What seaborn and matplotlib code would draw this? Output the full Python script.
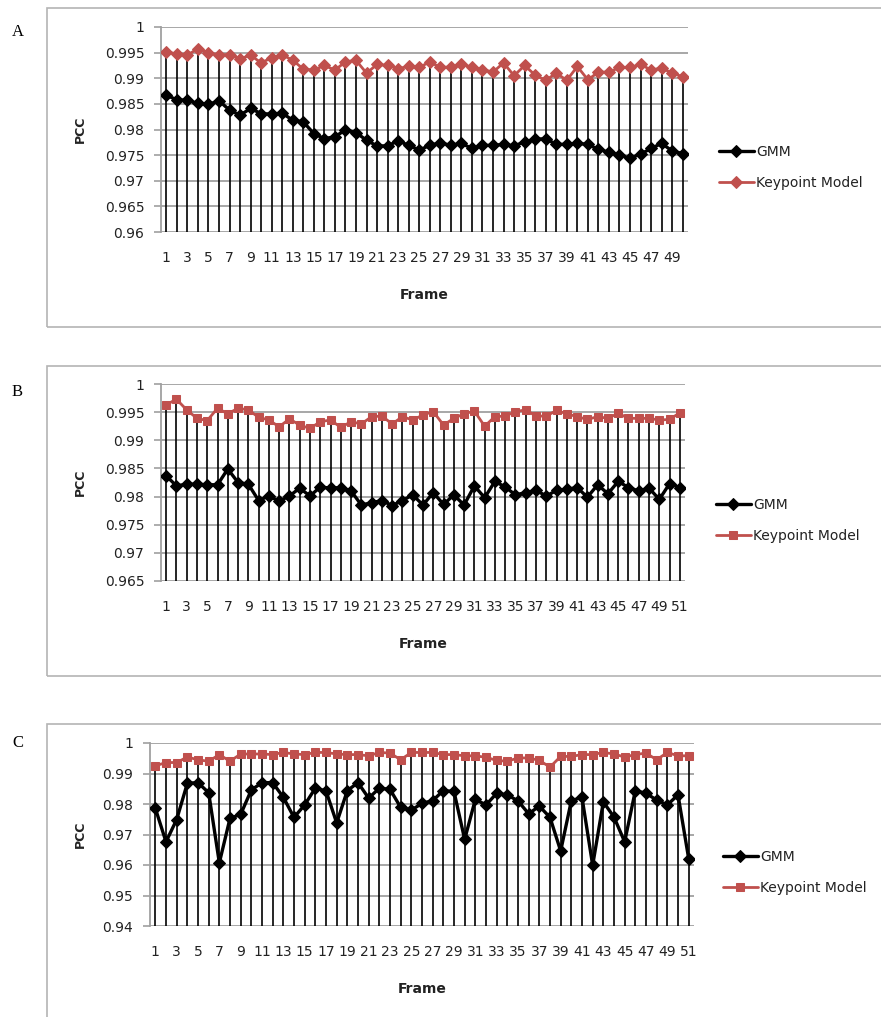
import numpy as np
import pandas as pd
import matplotlib
matplotlib.use("Agg")
import matplotlib.pyplot as plt
import seaborn as sns
from matplotlib.patches import Rectangle

# ---- data ----
gmm_a = [0.9867, 0.9858, 0.9857, 0.9851, 0.9849, 0.9856, 0.9838, 0.9828, 0.9841, 0.9831,
         0.9830, 0.9832, 0.9818, 0.9815, 0.9792, 0.9782, 0.9786, 0.9799, 0.9794, 0.9779,
         0.9768, 0.9768, 0.9778, 0.9769, 0.9760, 0.9769, 0.9774, 0.9769, 0.9773, 0.9763,
         0.9769, 0.9769, 0.9771, 0.9768, 0.9776, 0.9781, 0.9782, 0.9771, 0.9771, 0.9773,
         0.9771, 0.9761, 0.9756, 0.9750, 0.9744, 0.9752, 0.9763, 0.9773, 0.9758, 0.9753]
key_a = [0.9952, 0.9947, 0.9945, 0.9958, 0.9949, 0.9946, 0.9946, 0.9938, 0.9945, 0.9930,
         0.9940, 0.9946, 0.9935, 0.9918, 0.9916, 0.9925, 0.9916, 0.9932, 0.9935, 0.9910,
         0.9927, 0.9925, 0.9919, 0.9923, 0.9921, 0.9932, 0.9921, 0.9922, 0.9927, 0.9922,
         0.9917, 0.9912, 0.9930, 0.9905, 0.9925, 0.9906, 0.9896, 0.9910, 0.9896, 0.9923,
         0.9897, 0.9912, 0.9912, 0.9921, 0.9921, 0.9927, 0.9916, 0.9920, 0.9910, 0.9903]

gmm_b = [0.9837, 0.9819, 0.9822, 0.9822, 0.9821, 0.9821, 0.9849, 0.9825, 0.9822, 0.9793,
         0.9801, 0.9792, 0.9801, 0.9815, 0.9801, 0.9817, 0.9815, 0.9816, 0.9810, 0.9785,
         0.9789, 0.9793, 0.9784, 0.9793, 0.9803, 0.9785, 0.9807, 0.9786, 0.9803, 0.9785,
         0.9819, 0.9798, 0.9827, 0.9817, 0.9803, 0.9807, 0.9811, 0.9801, 0.9811, 0.9813,
         0.9816, 0.9799, 0.9821, 0.9805, 0.9827, 0.9816, 0.9810, 0.9815, 0.9795, 0.9823,
         0.9816]
key_b = [0.9963, 0.9973, 0.9954, 0.9939, 0.9935, 0.9957, 0.9947, 0.9957, 0.9954, 0.9941,
         0.9936, 0.9924, 0.9938, 0.9927, 0.9921, 0.9933, 0.9936, 0.9923, 0.9933, 0.9929,
         0.9942, 0.9943, 0.9929, 0.9942, 0.9936, 0.9945, 0.9951, 0.9927, 0.9939, 0.9947,
         0.9952, 0.9925, 0.9942, 0.9943, 0.9951, 0.9954, 0.9943, 0.9943, 0.9953, 0.9947,
         0.9942, 0.9937, 0.9942, 0.9939, 0.9948, 0.9939, 0.9939, 0.9939, 0.9936, 0.9937,
         0.9949]

gmm_c = [0.9786, 0.9676, 0.9749, 0.9868, 0.9870, 0.9837, 0.9607, 0.9753, 0.9766, 0.9846,
         0.9870, 0.9870, 0.9822, 0.9756, 0.9797, 0.9852, 0.9843, 0.9738, 0.9844, 0.9870,
         0.9819, 0.9852, 0.9848, 0.9789, 0.9780, 0.9802, 0.9811, 0.9844, 0.9841, 0.9684,
         0.9815, 0.9797, 0.9835, 0.9830, 0.9810, 0.9768, 0.9793, 0.9756, 0.9646, 0.9811,
         0.9822, 0.9599, 0.9807, 0.9757, 0.9676, 0.9844, 0.9835, 0.9813, 0.9797, 0.9830,
         0.9621]
key_c = [0.9925, 0.9936, 0.9936, 0.9954, 0.9945, 0.9940, 0.9962, 0.9940, 0.9964, 0.9964,
         0.9964, 0.9962, 0.9969, 0.9964, 0.9962, 0.9969, 0.9969, 0.9964, 0.9962, 0.9962,
         0.9958, 0.9969, 0.9967, 0.9945, 0.9969, 0.9969, 0.9969, 0.9962, 0.9962, 0.9958,
         0.9958, 0.9953, 0.9943, 0.9940, 0.9951, 0.9951, 0.9943, 0.9921, 0.9956, 0.9956,
         0.9962, 0.9962, 0.9969, 0.9964, 0.9954, 0.9962, 0.9967, 0.9945, 0.9969, 0.9958,
         0.9958]

y_ticks_a = [0.96, 0.965, 0.97, 0.975, 0.98, 0.985, 0.99, 0.995, 1.0]
y_ticks_b = [0.965, 0.97, 0.975, 0.98, 0.985, 0.99, 0.995, 1.0]
y_ticks_c = [0.94, 0.95, 0.96, 0.97, 0.98, 0.99, 1.0]

series_names = ["GMM", "Keypoint Model"]

RED = '#c0504d'
GRID = '#a0a0a0'
TEXT = '#222222'
W, H = 881, 1017

sns.set_style("white")
plt.rcParams['font.family'] = ['DejaVu Sans']

fig = plt.figure(figsize=(W / 100, H / 100), dpi=100)


def px_axes(left, right, top, bottom):
    return fig.add_axes([left / W, 1 - bottom / H, (right - left) / W, (bottom - top) / H])


def draw_panel(ax, left, right, gmm, key, yticks, key_marker, key_ms, legend_xy):
    n = len(gmm)
    frames = np.arange(1, n + 1)
    df = pd.DataFrame({"Frame": np.tile(frames, 2),
                       "PCC": np.concatenate([gmm, key]),
                       "Model": np.repeat(series_names, n)})

    ax.set_ylim(yticks[0], yticks[-1])
    ax.set_xlim(0.5, n + 0.5)
    ax.set_yticks(yticks)
    ax.yaxis.grid(True, color=GRID, lw=1.3)
    ax.set_axisbelow(True)

    # drop lines from the top point down to the axis
    top = np.maximum(np.array(gmm), np.array(key))
    ax.vlines(frames, yticks[0], top, color='black', lw=1.2, zorder=2)

    sns.lineplot(data=df[df.Model == "GMM"], x="Frame", y="PCC", ax=ax,
                 color='black', lw=2.4, marker='D', markersize=6.0,
                 markeredgecolor='black', markerfacecolor='black',
                 label="GMM", zorder=4)
    sns.lineplot(data=df[df.Model == "Keypoint Model"], x="Frame", y="PCC", ax=ax,
                 color=RED, lw=2.0, marker=key_marker, markersize=key_ms,
                 markeredgecolor=RED, markerfacecolor=RED,
                 label="Keypoint Model", zorder=3)

    ax.set_xticks(frames[::2])
    ax.set_xticklabels([str(f) for f in frames[::2]], fontsize=10, color=TEXT)
    ax.set_yticklabels([f"{t:g}" for t in yticks], fontsize=10, color=TEXT)
    ax.tick_params(axis='x', length=0, pad=14)
    ax.tick_params(axis='y', length=5, color=GRID, width=1.2, pad=7, left=True)

    for s in ['top', 'right', 'bottom']:
        ax.spines[s].set_visible(False)
    ax.spines['left'].set_color(GRID)
    ax.spines['left'].set_linewidth(1.3)

    ax.set_xlabel("Frame", fontsize=10, fontweight='bold', color=TEXT, labelpad=16)
    ax.set_ylabel("PCC", fontsize=9, fontweight='bold', color=TEXT)
    ax.yaxis.set_label_coords((87 - left) / (right - left), 0.5)

    ax.legend(loc='center left', bbox_to_anchor=(legend_xy[0] / W, 1 - legend_xy[1] / H),
              bbox_transform=fig.transFigure, frameon=False, fontsize=10,
              labelspacing=1.25, handlelength=2.5, handletextpad=0.15,
              borderpad=0, borderaxespad=0, labelcolor=TEXT)


# panel frames
for (y0, y1) in [(8, 327), (366, 676), (724, 1030)]:
    fig.patches.append(Rectangle((47 / W, 1 - y1 / H), 1, (y1 - y0) / H,
                                 transform=fig.transFigure, fill=False,
                                 edgecolor='#b4b4b4', lw=1.2))

ax_a = px_axes(161, 688, 27, 232)
draw_panel(ax_a, 161, 688, gmm_a, key_a, y_ticks_a, 'D', 6.0, (719, 167.5))
ax_b = px_axes(161, 685, 384, 581)
draw_panel(ax_b, 161, 685, gmm_b, key_b, y_ticks_b, 's', 6.3, (716, 520.5))
ax_c = px_axes(150, 694, 743, 926)
draw_panel(ax_c, 150, 694, gmm_c, key_c, y_ticks_c, 's', 6.3, (723, 872.5))

for letter, y in [("A", 32), ("B", 392), ("C", 743)]:
    fig.text(12 / W, 1 - y / H, letter, family='Liberation Serif', fontsize=12,
             va='center', ha='left', color='black')

fig.savefig("out.png", dpi=100)
